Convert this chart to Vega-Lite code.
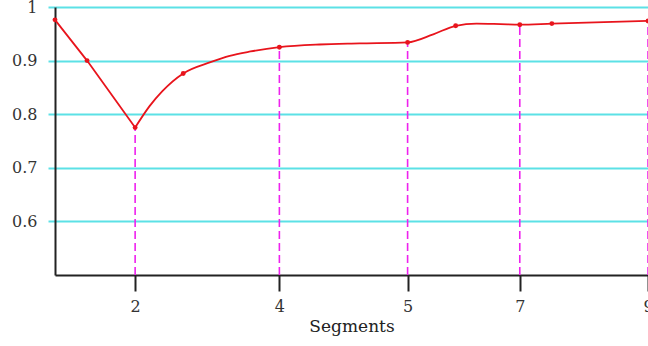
{
  "$schema": "https://vega.github.io/schema/vega-lite/v6.json",
  "autosize": "none",
  "width": 593,
  "height": 268,
  "padding": {"left": 55, "top": 7, "right": 0, "bottom": 71},
  "background": "white",
  "config": {
    "view": {"stroke": null},
    "font": "DejaVu Serif",
    "axis": {"labelFont": "DejaVu Serif", "titleFont": "DejaVu Serif", "labelColor": "#333333", "titleColor": "#222222", "labelFontSize": 16, "titleFontSize": 17, "titleFontWeight": "normal"}
  },
  "datasets": {
    "curve": [
      {"t": 0, "v": 0.976}, {"t": 2, "v": 0.9}, {"t": 5, "v": 0.775}, {"t": 5.9, "v": 0.815},
      {"t": 6.7, "v": 0.843}, {"t": 8, "v": 0.876}, {"t": 9.7, "v": 0.897}, {"t": 10.9, "v": 0.909},
      {"t": 12.2, "v": 0.917}, {"t": 14, "v": 0.925}, {"t": 16.5, "v": 0.93}, {"t": 19, "v": 0.932},
      {"t": 22, "v": 0.934}, {"t": 23.6, "v": 0.949}, {"t": 25, "v": 0.965}, {"t": 26.3, "v": 0.969},
      {"t": 27.8, "v": 0.968}, {"t": 29, "v": 0.967}, {"t": 31, "v": 0.969}, {"t": 37, "v": 0.974}
    ],
    "markers": [
      {"t": 0, "v": 0.976}, {"t": 2, "v": 0.9}, {"t": 5, "v": 0.775}, {"t": 8, "v": 0.876},
      {"t": 14, "v": 0.925}, {"t": 22, "v": 0.934}, {"t": 25, "v": 0.965}, {"t": 29, "v": 0.967},
      {"t": 31, "v": 0.969}, {"t": 37, "v": 0.974}
    ],
    "segments": [
      {"t": 5, "v": 0.775, "segment": "2"}, {"t": 14, "v": 0.925, "segment": "4"},
      {"t": 22, "v": 0.934, "segment": "5"}, {"t": 29, "v": 0.967, "segment": "7"},
      {"t": 37, "v": 0.974, "segment": "9"}
    ]
  },
  "encoding": {
    "x": {
      "field": "t", "type": "quantitative",
      "scale": {"domain": [0, 37], "nice": false, "zero": false},
      "axis": {
        "title": "Segments", "grid": false, "values": [5, 14, 22, 29, 37],
        "labelExpr": "datum.value == 5 ? '2' : datum.value == 14 ? '4' : datum.value == 22 ? '5' : datum.value == 29 ? '7' : '9'",
        "domainColor": "#222222", "domainWidth": 2, "tickColor": "#222222", "tickWidth": 2, "tickSize": 16,
        "labelPadding": 7, "titlePadding": 4, "labelFlush": false, "labelOverlap": false
      }
    },
    "y": {
      "field": "v", "type": "quantitative",
      "scale": {"domain": [0.5, 1], "nice": false, "zero": false},
      "axis": {
        "title": null, "values": [0.6, 0.7, 0.8, 0.9, 1], "format": ".1~f",
        "grid": true, "gridColor": "#5ce1e6", "gridWidth": 2,
        "tickColor": "#5ce1e6", "tickWidth": 2, "tickSize": 7,
        "domainColor": "#222222", "domainWidth": 2, "labelPadding": 11, "labelFontSize": 16
      }
    }
  },
  "layer": [
    {
      "data": {"name": "segments"},
      "mark": {"type": "rule", "color": "#ee22ee", "strokeWidth": 1.6, "strokeDash": [8, 4]},
      "encoding": {"y": {"datum": 0.5, "type": "quantitative"}, "y2": {"field": "v"}}
    },
    {
      "data": {"name": "curve"},
      "transform": [{"filter": "datum.t <= 5"}],
      "mark": {"type": "line", "color": "#e8141c", "strokeWidth": 1.8, "interpolate": "linear"}
    },
    {
      "data": {"name": "curve"},
      "transform": [{"filter": "datum.t >= 5"}],
      "mark": {"type": "line", "color": "#e8141c", "strokeWidth": 1.8, "interpolate": "monotone"}
    },
    {
      "data": {"name": "markers"},
      "mark": {"type": "point", "filled": true, "color": "#e8141c", "size": 24, "opacity": 1}
    }
  ]
}
